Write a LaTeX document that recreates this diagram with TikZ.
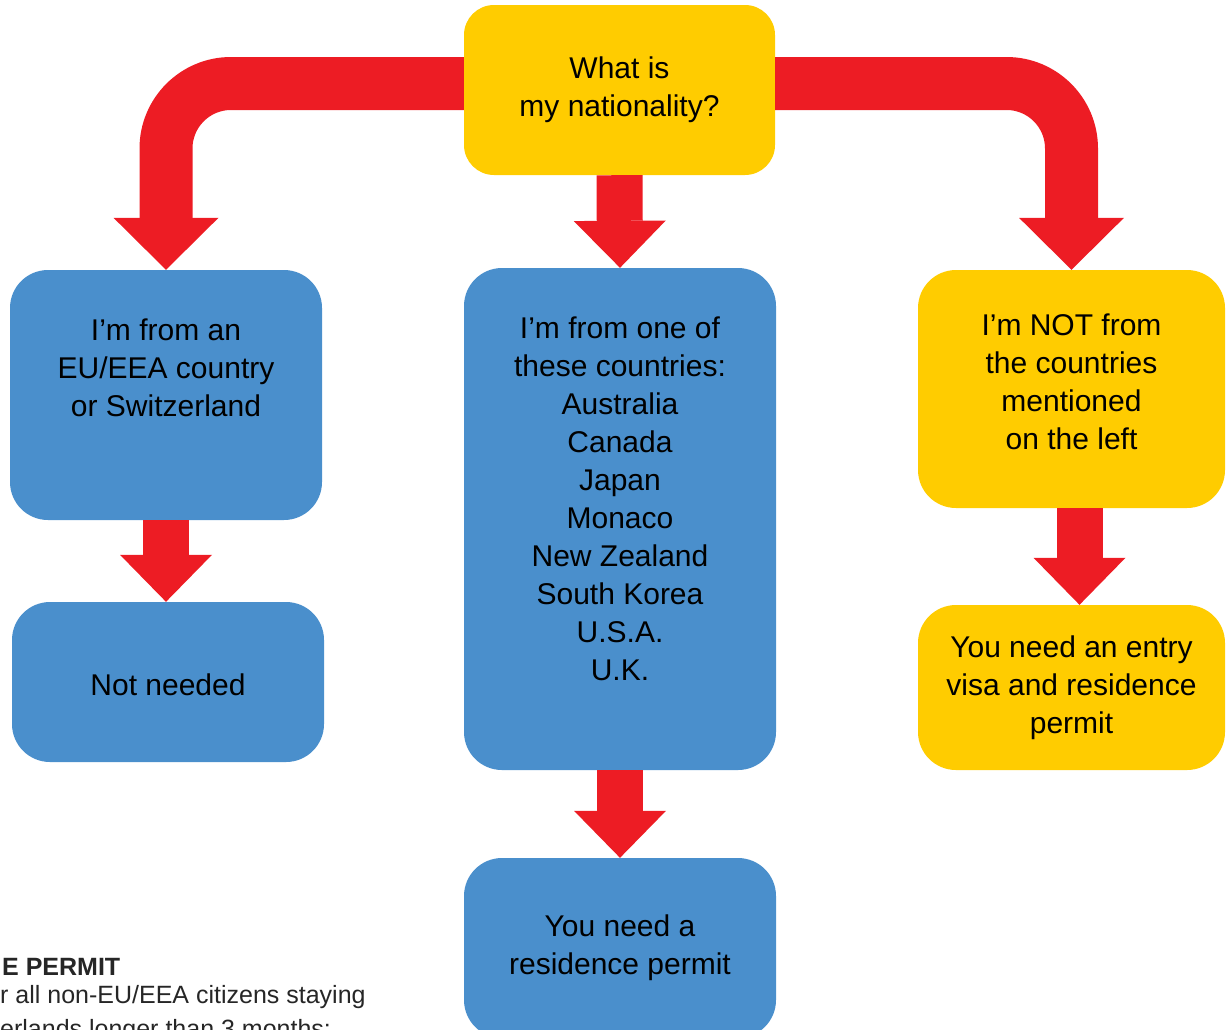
\documentclass[tikz,border=0pt]{standalone}
\usepackage{fontspec}
\setmainfont{Liberation Sans}
\usetikzlibrary{arrows.meta}
\definecolor{flowred}{HTML}{ED1C24}
\definecolor{flowyellow}{HTML}{FFCC00}
\definecolor{flowblue}{HTML}{4A8FCC}
\begin{document}
\begin{tikzpicture}[x=1pt,y=-1pt,
      box/.style={rectangle,rounded corners=38pt,inner sep=0pt,draw=none},
      yellowbox/.style={box,fill=flowyellow},
      bluebox/.style={box,fill=flowblue},
      boxtext/.style={align=center,font=\fontsize{30}{38}\selectfont},
      note/.style={anchor=base west,inner sep=0pt,text=black!85},
      bigarrow/.style={draw=flowred,line width=46pt,-{Triangle[width=92pt,length=47pt,line width=0pt]}},
      bendarrow/.style={draw=flowred,line width=53pt,rounded corners=65pt,-{Triangle[width=105pt,length=52pt,line width=0pt]}}]
    \useasboundingbox (0,0) rectangle (1226,1029);
    \clip (0,0) rectangle (1226,1029);
    % boxes
    \node[yellowbox,rounded corners=30pt,minimum width=311pt,minimum height=170pt] (q) at (619.5,90) {};
    \node[bluebox,minimum width=312pt,minimum height=250pt] (eu) at (166,395) {};
    \node[bluebox,minimum width=312pt,minimum height=502pt] (mid) at (620,519) {};
    \node[yellowbox,minimum width=307pt,minimum height=238pt] (other) at (1071.5,389) {};
    \node[bluebox,minimum width=312pt,minimum height=160pt] (none) at (168,682) {};
    \node[bluebox,minimum width=312pt,minimum height=180pt] (permit) at (620,948) {};
    \node[yellowbox,minimum width=307pt,minimum height=165pt] (visa) at (1071.5,687.5) {};
    % texts
    \node[boxtext] (q-t) at (q) {What is\\my nationality?};
    \node[boxtext,yshift=27pt] (eu-t) at (eu) {I’m from an\\EU/EEA country\\or Switzerland};
    \node[boxtext,yshift=20pt] (mid-t) at (mid) {I’m from one of\\these countries:\\Australia\\Canada\\Japan\\Monaco\\New Zealand\\South Korea\\U.S.A.\\U.K.};
    \node[boxtext,yshift=7pt] (other-t) at (other) {I’m NOT from\\the countries\\mentioned\\on the left};
    \node[boxtext,yshift=-3pt] (none-t) at (none) {Not needed};
    \node[boxtext] (permit-t) at (permit) {You need a\\residence permit};
    \node[boxtext] (visa-t) at (visa) {You need an entry\\visa and residence\\permit};
    % arrows
    \draw[bendarrow] ([yshift=6.5pt]q.west) -| (eu.north);
    \draw[bendarrow] ([yshift=6.5pt]q.east) -| (other.north);
    \draw[bigarrow] (q.south) -- (mid.north);
    \draw[bigarrow] (eu.south) -- (eu.south |- none.north);
    \draw[bigarrow] (mid.south) -- (permit.north);
    \draw[bigarrow] ([xshift=8pt]other.south) -- ([xshift=8pt]other.south |- visa.north);
    % note in the corner
    \node[note,font=\bfseries\fontsize{25}{30}\selectfont] (note-title) at (2,975) {E PERMIT};
    \node[note,font=\fontsize{25}{30}\selectfont] (note-a) at (0,1003) {r all non-EU/EEA citizens staying};
    \node[note,font=\fontsize{25}{30}\selectfont] (note-b) at (0,1037) {erlands longer than 3 months:};
\end{tikzpicture}
\end{document}
